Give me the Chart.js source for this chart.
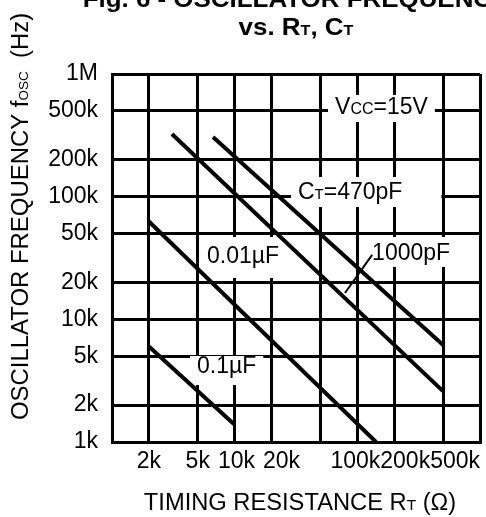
<!DOCTYPE html>
<html>
<head>
<meta charset="utf-8">
<script src="https://cdn.jsdelivr.net/npm/chart.js@4.4.0/dist/chart.umd.min.js"></script>
<style>
  html, body { margin: 0; padding: 0; background: #fff; }
  #wrap { width: 486px; height: 517px; }
</style>
</head>
<body>
<div id="wrap"><canvas id="osc" width="486" height="517"></canvas></div>
<script>
// Valores de la rejilla (log-log, 1k .. 1M en ambos ejes)
const gridValues = [1e3, 2e3, 5e3, 1e4, 2e4, 5e4, 1e5, 2e5, 5e5, 1e6];
const yTickLabels = ['1k', '2k', '5k', '10k', '20k', '50k', '100k', '200k', '500k', '1M'];
const xTickLabels = ['', '2k', '5k', '10k', '20k', '', '100k', '200k', '500k', ''];

// Curvas: RT (ohm) contra frecuencia (Hz)
const seriesNames = ['0.1µF', '0.01µF', '1000pF', '470pF'];
const rt01uF = [2000, 10000];
const f01uF = [6000, 1380];
const rt001uF = [2000, 142000];
const f001uF = [62700, 1000];
const rt1000pF = [3080, 499000];
const f1000pF = [324000, 2600];
const rt470pF = [6660, 500000];
const f470pF = [306000, 6180];

const FONT = '"Liberation Sans", Arial, sans-serif';

function toPoints(xs, ys) {
  return xs.map((x, i) => ({ x: x, y: ys[i] }));
}

// Texto con partes de distinto tamano (subindices)
function drawRich(ctx, pieces, x, y, o) {
  o = o || {};
  ctx.save();
  ctx.translate(x, y);
  if (o.rotate) ctx.rotate(o.rotate);
  ctx.scale(o.sx || 1, 1);
  ctx.fillStyle = '#000';
  ctx.textBaseline = 'alphabetic';
  ctx.textAlign = 'left';
  let total = 0;
  pieces.forEach(p => {
    ctx.font = (o.bold ? 'bold ' : '') + p.s + 'px ' + FONT;
    p.w = ctx.measureText(p.t).width;
    total += p.w;
  });
  let cx = o.align === 'center' ? -total / 2 : 0;
  pieces.forEach(p => {
    ctx.font = (o.bold ? 'bold ' : '') + p.s + 'px ' + FONT;
    ctx.fillText(p.t, cx, 0);
    cx += p.w;
  });
  ctx.restore();
  return total * (o.sx || 1);
}

function measureRich(ctx, pieces) {
  let total = 0;
  pieces.forEach(p => {
    ctx.font = p.s + 'px ' + FONT;
    total += ctx.measureText(p.t).width;
  });
  return total;
}

// Etiquetas dentro del grafico (posicion en unidades de datos)
const notes = [
  { pieces: [{ t: 'V', s: 23 }, { t: 'CC', s: 16 }, { t: '=15V', s: 23 }], r: 65800, f: 472000, padT: 19, padB: 8 },
  { pieces: [{ t: 'C', s: 23 }, { t: 'T', s: 15 }, { t: '=470pF', s: 23 }], r: 32800, f: 95700, padT: 22, padB: 8, padR: 32 },
  { pieces: [{ t: '0.01µF', s: 23 }], r: 5950, f: 28800, padT: 26, padB: 15 },
  { pieces: [{ t: '1000pF', s: 23 }], r: 132000, f: 30500, padT: 23, padB: 7 },
  { pieces: [{ t: '0.1µF', s: 23 }], r: 4930, f: 3650, padT: 17, padB: 12 }
];
const leader = { r: [132000, 79300], f: [33500, 16400] };

const notesPlugin = {
  id: 'notes',
  beforeDatasetsDraw(chart) {
    const ctx = chart.ctx;
    const xs = chart.scales.x, ys = chart.scales.y;
    notes.forEach(n => {
      const px = xs.getPixelForValue(n.r);
      const py = ys.getPixelForValue(n.f);
      const w = measureRich(ctx, n.pieces);
      ctx.save();
      ctx.fillStyle = '#fff';
      ctx.fillRect(px - 7, py - n.padT, w + 14 + (n.padR || 0), n.padT + n.padB);
      ctx.restore();
      drawRich(ctx, n.pieces, px, py);
    });
    // linea guia de 1000pF
    ctx.save();
    ctx.strokeStyle = '#000';
    ctx.lineWidth = 2;
    ctx.beginPath();
    ctx.moveTo(xs.getPixelForValue(leader.r[0]), ys.getPixelForValue(leader.f[0]));
    ctx.lineTo(xs.getPixelForValue(leader.r[1]), ys.getPixelForValue(leader.f[1]));
    ctx.stroke();
    ctx.restore();
  },
  afterDraw(chart) {
    const ctx = chart.ctx;
    const area = chart.chartArea;
    const xs = chart.scales.x;

    // etiquetas del eje x: se separan hacia la derecha si se pisan,
    // y luego se meten dentro del borde derecho
    ctx.save();
    ctx.font = '23px ' + FONT;
    ctx.fillStyle = '#000';
    ctx.textAlign = 'center';
    ctx.textBaseline = 'alphabetic';
    const items = [];
    gridValues.forEach((v, i) => {
      if (xTickLabels[i]) {
        items.push({ text: xTickLabels[i], c: xs.getPixelForValue(v), w: ctx.measureText(xTickLabels[i]).width });
      }
    });
    let lastRight = -Infinity;
    items.forEach(it => {
      if (it.c - it.w / 2 < lastRight + 8) it.c = lastRight + 8 + it.w / 2;
      lastRight = it.c + it.w / 2;
    });
    let limit = area.right;
    for (let i = items.length - 1; i >= 0; i--) {
      const it = items[i];
      if (it.c + it.w / 2 > limit) it.c = limit - it.w / 2;
      limit = it.c - it.w / 2;
    }
    items.forEach(it => ctx.fillText(it.text, it.c, area.bottom + 26));
    ctx.restore();

    // titulo
    drawRich(ctx, [{ t: 'Fig. 6 - OSCILLATOR FREQUENCY', s: 24 }], 296, 7, { bold: true, align: 'center', sx: 1.08 });
    drawRich(ctx, [{ t: 'vs. R', s: 24 }, { t: 'T', s: 15 }, { t: ', C', s: 24 }, { t: 'T', s: 15 }], 296, 35, { bold: true, align: 'center', sx: 1.08 });

    // titulo eje y
    drawRich(ctx, [{ t: 'OSCILLATOR FREQUENCY f', s: 23 }, { t: 'OSC', s: 13 }, { t: '  (Hz)', s: 23 }], 28, 420, { rotate: -Math.PI / 2, sx: 1.04 });

    // titulo eje x
    drawRich(ctx, [{ t: 'TIMING RESISTANCE R', s: 23 }, { t: 'T', s: 15 }, { t: ' (Ω)', s: 23 }], 300, 510, { align: 'center', sx: 1.03 });
  }
};

const lineStyle = {
  borderColor: '#000',
  borderWidth: 4,
  pointRadius: 0,
  fill: false,
  tension: 0,
  borderCapStyle: 'butt'
};

const chart = new Chart(document.getElementById('osc'), {
  type: 'line',
  data: {
    datasets: [
      Object.assign({ label: seriesNames[0], data: toPoints(rt01uF, f01uF) }, lineStyle),
      Object.assign({ label: seriesNames[1], data: toPoints(rt001uF, f001uF) }, lineStyle),
      Object.assign({ label: seriesNames[2], data: toPoints(rt1000pF, f1000pF) }, lineStyle),
      Object.assign({ label: seriesNames[3], data: toPoints(rt470pF, f470pF) }, lineStyle)
    ]
  },
  options: {
    responsive: false,
    devicePixelRatio: 1,
    animation: false,
    layout: { padding: { top: 74, right: 6, left: 0, bottom: 0 } },
    plugins: {
      legend: { display: false },
      tooltip: { enabled: false },
      title: { display: false }
    },
    scales: {
      x: {
        type: 'logarithmic',
        min: 1000,
        max: 1000000,
        afterBuildTicks: s => { s.ticks = gridValues.map(v => ({ value: v })); },
        afterFit: s => { s.height = 75; },
        grid: { color: '#000', lineWidth: 3, drawTicks: false },
        border: { display: true, color: '#000', width: 3 },
        ticks: { display: false }
      },
      y: {
        type: 'logarithmic',
        min: 1000,
        max: 1000000,
        afterBuildTicks: s => { s.ticks = gridValues.map(v => ({ value: v })); },
        afterFit: s => { s.width = 112; },
        grid: { color: '#000', lineWidth: 3, drawTicks: false },
        border: { display: true, color: '#000', width: 3 },
        ticks: {
          color: '#000',
          padding: 14,
          autoSkip: false,
          font: { family: FONT, size: 23 },
          callback: v => yTickLabels[gridValues.indexOf(v)]
        }
      }
    }
  },
  plugins: [notesPlugin]
});
</script>
</body>
</html>
